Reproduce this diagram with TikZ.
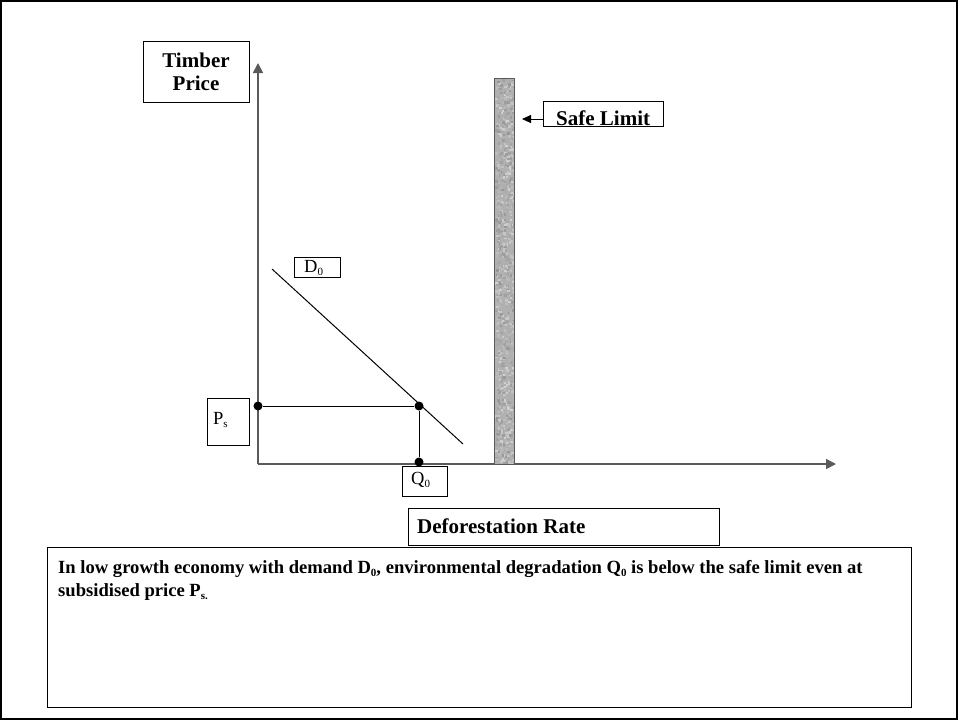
\documentclass[tikz,border=0pt]{standalone}
\usepackage{fontspec}
\setmainfont{Liberation Serif}
\usetikzlibrary{arrows.meta}
\definecolor{barfill}{RGB}{176,176,176}
\definecolor{axisgray}{RGB}{90,90,90}
\newcommand{\lsub}[1]{\raisebox{-3.5pt}{\fontsize{11}{11}\selectfont #1}}
\begin{document}
\begin{tikzpicture}[x=1pt,y=-1pt,
  box/.style={draw=black,line width=1pt,rectangle,inner sep=0pt},
  lbl/.style={inner sep=0pt,anchor=base west},
  axisline/.style={draw=axisgray,line width=1.5pt,-{Triangle[width=10pt,length=10pt]}},
  guide/.style={draw=black,line width=1pt},
  dot/.style={circle,fill=black,inner sep=0pt,minimum size=9pt}]
\useasboundingbox (0,0) rectangle (958,720);
\draw[line width=2pt] (1,1) rectangle (957,719);
% axes
\coordinate (O) at (258,464);
\coordinate (ytop) at (258,63);
\coordinate (xend) at (836,464);
\draw[axisline] (O) -- (ytop);
\draw[axisline] (O) -- (xend);
% Timber price
\node[box,minimum width=106pt,minimum height=61pt,align=center,
  font=\fontsize{21}{23}\selectfont\bfseries] (tp) at (196,71.5) {Timber\\Price};
% safe limit bar
\node[rectangle,fill=barfill,minimum width=19pt,minimum height=385pt,inner sep=0pt] (bar) at (504.5,271.5) {};
\pgfmathsetseed{7}
\begin{scope}
\clip (bar.south west) rectangle (bar.north east);
\foreach \i in {1,...,900}{
  \pgfmathsetmacro{\rx}{495+19*rnd}
  \pgfmathsetmacro{\ry}{79+385*rnd}
  \pgfmathsetmacro{\gp}{int(18+24*rnd)}
  \fill[black!\gp] (\rx,\ry) rectangle ++(2.5,2.5);
}
\end{scope}
\draw[draw=axisgray,line width=1pt] (bar.south west) rectangle (bar.north east);
\node[box,minimum width=120pt,minimum height=25pt] (slbox) at (603,113.5) {};
\node[lbl,font=\fontsize{21}{23}\selectfont\bfseries] (sltext) at (556,125) {Safe Limit};
\coordinate (slarrow) at (522,119);
\draw[line width=1pt,-{Triangle[width=8pt,length=9pt]}] (slbox.west |- slarrow) -- (slarrow);
% demand line
\coordinate (d1) at (272,269);
\coordinate (d2) at (463,444);
\draw[line width=1pt] (d1) -- (d2);
\node[box,minimum width=46pt,minimum height=20pt] (d0box) at (317,267) {};
\node[lbl,font=\fontsize{18.5}{20}\selectfont] (d0text) at (304,272) {D\lsub{0}};
% points
\node[dot] (ps) at (258,406) {};
\node[dot] (eq) at (419,406) {};
\node[dot] (q0) at (419,462) {};
\draw[guide] (ps) -- (eq);
\draw[guide] (eq) -- (q0);
\node[box,minimum width=42pt,minimum height=47pt] (psbox) at (228,421.5) {};
\node[lbl,font=\fontsize{18.5}{20}\selectfont] (pstext) at (213,424) {P\lsub{s}};
\node[box,minimum width=45pt,minimum height=30pt] (q0box) at (424.5,481) {};
\node[lbl,font=\fontsize{18.5}{20}\selectfont] (q0text) at (411,484) {Q\lsub{0}};
% deforestation rate
\node[box,minimum width=311pt,minimum height=37pt] (drbox) at (563.5,526.5) {};
\node[lbl,font=\fontsize{21}{23}\selectfont\bfseries] (drtext) at (417,533) {Deforestation Rate};
% caption box
\node[box,minimum width=864pt,minimum height=160pt] (capbox) at (479,627) {};
\node[lbl,font=\fontsize{18.6}{22}\selectfont\bfseries] (cap1) at (58,573) {In low growth economy with demand D\lsub{0}, environmental degradation Q\lsub{0} is below the safe limit even at};
\node[lbl,font=\fontsize{18.6}{22}\selectfont\bfseries] (cap2) at (58,596) {subsidised price P\lsub{s.}};
\end{tikzpicture}
\end{document}
